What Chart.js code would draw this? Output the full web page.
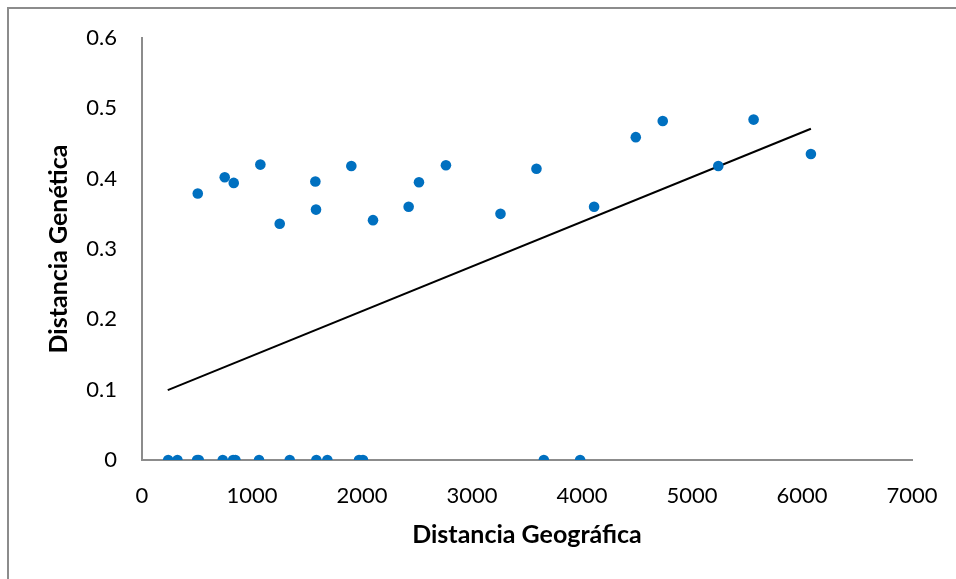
<!DOCTYPE html>
<html>
<head>
<meta charset="utf-8">
<script src="https://cdn.jsdelivr.net/npm/chart.js@4/dist/chart.umd.min.js"></script>
<style>
  html, body { margin: 0; padding: 0; background: #fff; overflow: hidden; }
  #wrap { position: relative; width: 956px; height: 579px; }
  #frame { position: absolute; left: 7px; top: 7px; width: 1000px; height: 700px; border: 2px solid #8c8c8c; box-sizing: border-box; pointer-events: none; }
  canvas { position: absolute; left: 0; top: 0; }
</style>
</head>
<body>
<div id="wrap">
  <canvas id="c" width="956" height="579"></canvas>
  <div id="frame"></div>
</div>
<script>
// Points with non-zero genetic distance
const geoDistHigh = [507, 752, 834, 1076, 1252, 1576, 1582, 1903, 2100, 2424, 2518, 2763, 3259, 3586, 4110, 4489, 4734, 5239, 5560, 6081];
const genDistHigh = [0.379, 0.402, 0.394, 0.420, 0.336, 0.396, 0.356, 0.418, 0.341, 0.360, 0.395, 0.419, 0.350, 0.414, 0.360, 0.459, 0.482, 0.418, 0.484, 0.435];
// Points with zero genetic distance
const geoDistZero = [238, 322, 501, 516, 734, 828, 849, 1064, 1343, 1585, 1685, 1973, 2009, 3653, 3983];
const genDistZero = [0, 0, 0, 0, 0, 0, 0, 0, 0, 0, 0, 0, 0, 0, 0];
// Linear trendline endpoints
const trendX = [234, 6081];
const trendY = [0.0994, 0.471];
// Axis ticks
const xTicks = [0, 1000, 2000, 3000, 4000, 5000, 6000, 7000];
const yTicks = [0, 0.1, 0.2, 0.3, 0.4, 0.5, 0.6];
const xTitle = 'Distancia Geográfica';
const yTitle = 'Distancia Genética';

const scatterPts = geoDistHigh.map((x, i) => ({x, y: genDistHigh[i]}))
  .concat(geoDistZero.map((x, i) => ({x, y: genDistZero[i]})));
const trendPts = trendX.map((x, i) => ({x, y: trendY[i]}));

const tickFont = { family: 'Lato', size: 22 };
const titleFont = { family: 'Lato', size: 25, weight: 'bold' };

new Chart(document.getElementById('c'), {
  type: 'scatter',
  data: {
    datasets: [
      {
        type: 'line',
        data: trendPts,
        borderColor: '#000000',
        borderWidth: 2,
        pointRadius: 0,
        fill: false,
        order: 2
      },
      {
        data: scatterPts,
        backgroundColor: '#0070C0',
        borderColor: '#0070C0',
        pointRadius: 5.3,
        pointBorderWidth: 0,
        order: 1
      }
    ]
  },
  options: {
    responsive: false,
    animation: false,
    devicePixelRatio: 1,
    layout: { padding: { left: 0, top: 38, right: 44, bottom: 0 } },
    plugins: { legend: { display: false }, tooltip: { enabled: false } },
    scales: {
      x: {
        type: 'linear',
        min: xTicks[0],
        max: xTicks[xTicks.length - 1],
        afterBuildTicks: s => { s.ticks = xTicks.map(v => ({value: v})); },
        afterFit: s => { s.height = 119; s.paddingLeft = 0; s.paddingRight = 0; },
        grid: { display: false, drawTicks: false },
        border: { display: true, color: '#8c8c8c', width: 2 },
        ticks: { padding: 23, color: '#000', font: tickFont, callback: v => String(v) },
        title: { display: true, text: xTitle, color: '#000', font: titleFont, padding: { top: 0, bottom: 29 } }
      },
      y: {
        type: 'linear',
        min: yTicks[0],
        max: yTicks[yTicks.length - 1],
        afterBuildTicks: s => { s.ticks = yTicks.map(v => ({value: v})); },
        afterFit: s => { s.width = 142; s.paddingTop = 0; s.paddingBottom = 0; },
        grid: { display: false, drawTicks: false },
        border: { display: true, color: '#8c8c8c', width: 2 },
        ticks: { padding: 25, color: '#000', font: tickFont, callback: v => String(+v.toFixed(1)) },
        title: { display: true, text: yTitle, color: '#000', font: titleFont, padding: { top: 44, bottom: 0 } }
      }
    }
  }
});
</script>
</body>
</html>
